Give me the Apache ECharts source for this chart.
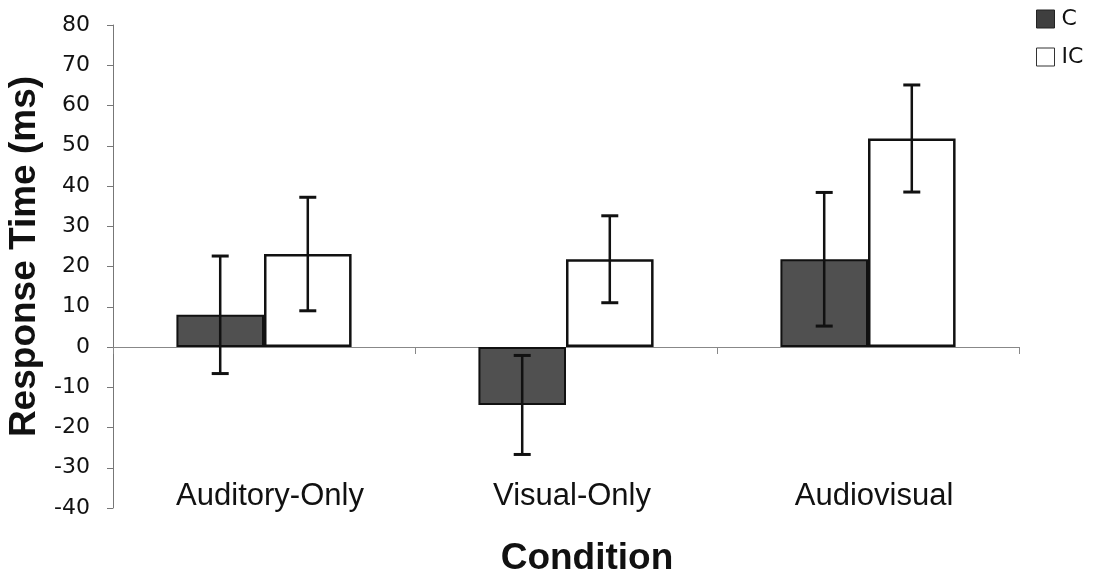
<!DOCTYPE html>
<html>
<head>
<meta charset="utf-8">
<script src="https://cdn.jsdelivr.net/npm/echarts@6/dist/echarts.min.js"></script>
<style>
  html, body { margin: 0; padding: 0; background: #fff; }
  #chart { width: 1099px; height: 587px; }
</style>
</head>
<body>
<div id="chart"></div>
<script>
// Conditions on the category axis
const categories = ['Auditory-Only', 'Visual-Only', 'Audiovisual'];

// Mean response-time effect (ms) per condition
const congruent = [8.0, -14.4, 21.8];     // C
const incongruent = [23.1, 21.8, 51.8];   // IC

// Error-bar half-lengths (ms)
const congruentErr = [14.6, 12.3, 16.6];
const incongruentErr = [14.1, 10.8, 13.3];

// Value axis range and step
const yMin = -40;
const yMax = 80;
const yStep = 10;

const CAT_GAP = 0.42; // fraction of each category band left empty
const C_FILL = '#505050';

const chart = echarts.init(document.getElementById('chart'), null, { renderer: 'canvas' });

// Error bars are placed over the matching bar inside each category band
function errorBars(side) {
  return function (params, api) {
    const i = api.value(0);
    const v = api.value(1);
    const e = api.value(2);
    const band = api.size([1, 0])[0];
    const barW = band * (1 - CAT_GAP) / 2;
    const x = api.coord([i, v])[0] + side * barW / 2;
    const yHi = api.coord([i, v + e])[1];
    const yLo = api.coord([i, v - e])[1];
    const cap = 8.5;
    const style = { stroke: '#111', lineWidth: 2.5 };
    return {
      type: 'group',
      children: [
        { type: 'line', shape: { x1: x, y1: yHi, x2: x, y2: yLo }, style },
        { type: 'line', shape: { x1: x - cap, y1: yHi, x2: x + cap, y2: yHi }, style: { stroke: '#111', lineWidth: 3 } },
        { type: 'line', shape: { x1: x - cap, y1: yLo, x2: x + cap, y2: yLo }, style: { stroke: '#111', lineWidth: 3 } }
      ]
    };
  };
}

const option = {
  backgroundColor: '#ffffff',
  animation: false,
  grid: { left: 113, right: 80, top: 25, bottom: 79, containLabel: false, outerBoundsMode: 'none' },
  legend: {
    orient: 'vertical',
    left: 1031,
    top: 3,
    itemWidth: 18,
    itemHeight: 18,
    itemGap: 16,
    textStyle: { fontFamily: 'DejaVu Sans', fontSize: 22, color: '#111', padding: [0, 0, 0, 2] },
    data: [
      { name: 'C', icon: 'rect', itemStyle: { color: '#3f3f3f', borderColor: '#222', borderWidth: 1 } },
      { name: 'IC', icon: 'rect', itemStyle: { color: '#ffffff', borderColor: '#333', borderWidth: 1 } }
    ]
  },
  xAxis: {
    type: 'category',
    data: categories,
    axisLine: { onZero: true, lineStyle: { color: '#888', width: 1 } },
    axisTick: { show: true, length: 7, lineStyle: { color: '#888' } },
    axisLabel: {
      margin: -27,
      fontFamily: 'Liberation Sans',
      fontSize: 31,
      color: '#111',
      padding: [0, 0, 0, 12]
    },
    name: 'Condition',
    nameLocation: 'middle',
    nameGap: 32,
    nameTextStyle: {
      fontFamily: 'Liberation Sans',
      fontWeight: 'bold',
      fontSize: 37,
      color: '#111',
      padding: [0, 0, 0, 42]
    }
  },
  yAxis: {
    type: 'value',
    min: yMin,
    max: yMax,
    interval: yStep,
    splitLine: { show: false },
    axisLine: { show: true, lineStyle: { color: '#777', width: 1 } },
    axisTick: { show: true, length: 6, lineStyle: { color: '#777' } },
    axisLabel: {
      margin: 23,
      fontFamily: 'DejaVu Sans',
      fontSize: 22,
      color: '#111'
    },
    name: 'Response Time (ms)',
    nameLocation: 'middle',
    nameGap: 70,
    nameTextStyle: {
      fontFamily: 'Liberation Sans',
      fontWeight: 'bold',
      fontSize: 37,
      color: '#111',
      padding: [0, 0, 0, 20]
    }
  },
  series: [
    {
      name: 'C',
      type: 'bar',
      data: congruent,
      barGap: '0%',
      barCategoryGap: (CAT_GAP * 100) + '%',
      itemStyle: { color: C_FILL, borderColor: '#111', borderWidth: 2 }
    },
    {
      name: 'IC',
      type: 'bar',
      data: incongruent,
      itemStyle: { color: '#ffffff', borderColor: '#111', borderWidth: 2.5 }
    },
    {
      name: 'C error',
      type: 'custom',
      renderItem: errorBars(-1),
      encode: { x: 0, y: 1 },
      data: congruent.map((v, i) => [i, v, congruentErr[i]]),
      z: 5
    },
    {
      name: 'IC error',
      type: 'custom',
      renderItem: errorBars(1),
      encode: { x: 0, y: 1 },
      data: incongruent.map((v, i) => [i, v, incongruentErr[i]]),
      z: 5
    }
  ]
};

chart.setOption(option);
</script>
</body>
</html>
